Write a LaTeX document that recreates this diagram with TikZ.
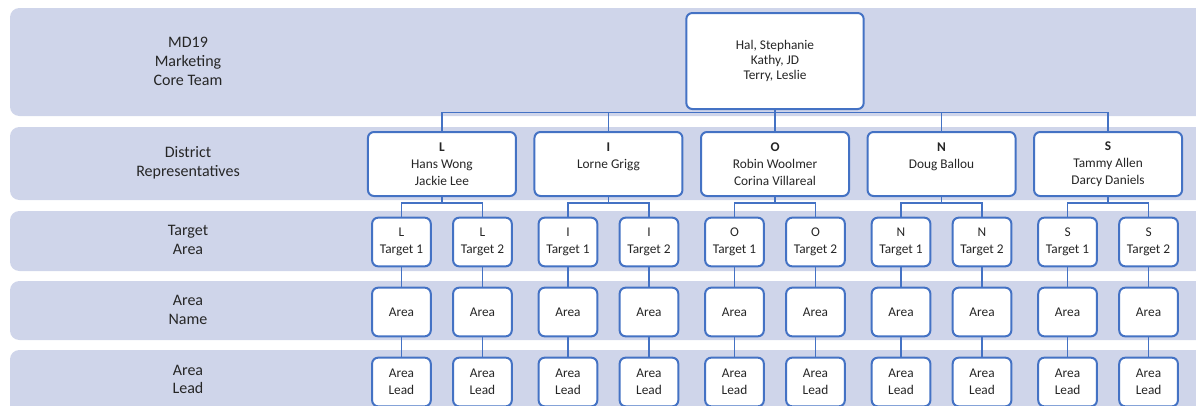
\documentclass[tikz,border=0pt]{standalone}
\usepackage{fontspec}
\setmainfont{Carlito}
\usetikzlibrary{trees}

\definecolor{bandfill}{HTML}{CFD5EA}
\definecolor{boxblue}{HTML}{4472C4}
\definecolor{inkgray}{HTML}{262626}

\tikzset{
    band/.style={fill=bandfill, rounded corners=7pt},
    rowlabel/.style={align=center, text=inkgray, font=\fontsize{12}{14}\selectfont},
    box/.style={draw=boxblue, line width=1.5pt, fill=white, rounded corners=4.5pt,
        align=center, text=inkgray, inner sep=0pt, font=\fontsize{10}{12.75}\selectfont},
    core/.style={box, minimum width=133pt, minimum height=72pt, font=\fontsize{10}{11.25}\selectfont},
    district/.style={box, minimum width=111pt, minimum height=48pt},
    target/.style={box, minimum width=44pt, minimum height=36.5pt},
    area/.style={box, minimum width=44pt, minimum height=36.5pt}
}

\begin{document}
\begin{tikzpicture}[x=0.75pt, y=-0.75pt,
    edge from parent fork down,
    edge from parent/.style={draw=boxblue, line width=1.1pt},
    level 1/.style={level distance=77.25pt, sibling distance=124.9pt},
    level 2/.style={level distance=58.5pt, sibling distance=60.75pt},
    level 3/.style={level distance=52.5pt},
    level 4/.style={level distance=52.5pt}]
    \clip (0,0) rectangle (1196,405);

    % row bands
    \fill[band] (10,8) rectangle (1215,116);
    \fill[band] (10,127) rectangle (1215,200);
    \fill[band] (10,211) rectangle (1215,271);
    \fill[band] (10,281) rectangle (1215,340);
    \fill[band] (10,350) rectangle (1215,420);

    \node[rowlabel] (lblCore) at (188,61.5) {MD19\\Marketing\\Core Team};
    \node[rowlabel] (lblDistrict) at (188,163) {District\\Representatives};
    \node[rowlabel] (lblTarget) at (188,240) {Target\\Area};
    \node[rowlabel] (lblName) at (188,310) {Area\\Name};
    \node[rowlabel] (lblLead) at (188,379.5) {Area\\Lead};

    \node[core] (core) at (775,61) {Hal, Stephanie\\Kathy, JD\\Terry, Leslie}
    child {
        node[district] (L) {\textbf{L}\\Hans Wong\\Jackie Lee}
        child foreach \t in {1,2} {
            node[target] (tgtL\t) {L\\Target \t}
            child {
                node[area] (areaL\t) {Area}
                child {
                    node[area] (leadL\t) {Area\\Lead}
                }
            }
        }
    }
    child {
        node[district] (I) {\textbf{I}\\Lorne Grigg\\\mbox{}}
        child foreach \t in {1,2} {
            node[target] (tgtI\t) {I\\Target \t}
            child {
                node[area] (areaI\t) {Area}
                child {
                    node[area] (leadI\t) {Area\\Lead}
                }
            }
        }
    }
    child {
        node[district] (O) {\textbf{O}\\Robin Woolmer\\Corina Villareal}
        child foreach \t in {1,2} {
            node[target] (tgtO\t) {O\\Target \t}
            child {
                node[area] (areaO\t) {Area}
                child {
                    node[area] (leadO\t) {Area\\Lead}
                }
            }
        }
    }
    child {
        node[district] (N) {\textbf{N}\\Doug Ballou\\\mbox{}}
        child foreach \t in {1,2} {
            node[target] (tgtN\t) {N\\Target \t}
            child {
                node[area] (areaN\t) {Area}
                child {
                    node[area] (leadN\t) {Area\\Lead}
                }
            }
        }
    }
    child {
        node[district] (S) {\textbf{S}\\Tammy Allen\\Darcy Daniels}
        child foreach \t in {1,2} {
            node[target] (tgtS\t) {S\\Target \t}
            child {
                node[area] (areaS\t) {Area}
                child {
                    node[area] (leadS\t) {Area\\Lead}
                }
            }
        }
    };
\end{tikzpicture}
\end{document}
